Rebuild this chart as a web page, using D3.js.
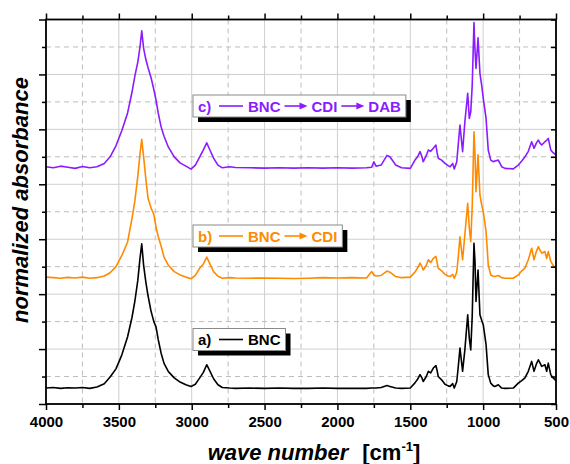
<!DOCTYPE html>
<html>
<head>
<meta charset="utf-8">
<script src="https://cdn.jsdelivr.net/npm/d3@7"></script>
<style>
  body { margin: 0; background: #fff; }
  svg { display: block; font-family: "Liberation Sans", Arial, sans-serif; }
</style>
</head>
<body>
<div id="root"></div>
<script>
// wave numbers (cm-1) shared by the three spectra
const waveNumbers = [
  4000, 3950, 3900, 3850, 3800, 3750, 3700, 3650, 3600, 3560,
  3520, 3480, 3440, 3410, 3390, 3370, 3355, 3343, 3330, 3315,
  3300, 3280, 3260, 3245, 3230, 3210, 3190, 3160, 3120, 3080,
  3040, 3005, 2975, 2945, 2920, 2897, 2875, 2850, 2820, 2790,
  2740, 2700, 2600, 2500, 2400, 2300, 2200, 2100, 2000, 1900,
  1800, 1765, 1750, 1735, 1700, 1660, 1640, 1600, 1560, 1500,
  1468, 1450, 1433, 1420, 1411, 1390, 1376, 1360, 1342, 1324,
  1316, 1308, 1285, 1262, 1240, 1227, 1209, 1198, 1181, 1170,
  1159, 1141, 1125, 1106, 1095, 1085, 1075, 1063, 1056, 1049,
  1035, 1022, 1010, 999, 980, 965, 948, 930, 919, 896,
  873, 850, 793, 759, 735, 713, 690, 667, 651, 635,
  621, 610, 598, 576, 564, 553, 536, 520, 500
];

// a) BNC
const bnc = [
  0.58, 0.60, 0.57, 0.59, 0.58, 0.60, 0.57, 0.62, 0.74, 0.98,
  1.28, 1.78, 2.45, 3.15, 3.75, 4.50, 5.30, 5.83, 5.05, 4.45,
  3.95, 3.40, 3.00, 2.81, 2.35, 1.85, 1.48, 1.18, 0.95, 0.80,
  0.70, 0.64, 0.72, 0.95, 1.15, 1.43, 1.20, 0.92, 0.70, 0.60,
  0.58, 0.57, 0.58, 0.57, 0.58, 0.57, 0.57, 0.58, 0.57, 0.57,
  0.57, 0.58, 0.58, 0.58, 0.60, 0.67, 0.64, 0.58, 0.57, 0.58,
  0.77, 0.90, 1.07, 0.95, 0.82, 1.00, 1.19, 1.13, 1.31, 1.40,
  1.22, 1.00, 0.88, 0.72, 0.66, 0.64, 0.74, 0.58, 0.82, 1.40,
  2.04, 1.19, 2.00, 3.25, 2.40, 1.97, 3.20, 5.85, 5.20, 3.73,
  4.88, 3.25, 3.05, 2.88, 2.16, 1.07, 0.76, 0.66, 0.64, 0.70,
  0.58, 0.57, 0.58, 0.76, 0.85, 0.95, 1.19, 1.55, 1.19, 1.45,
  1.61, 1.50, 1.37, 1.43, 1.19, 1.49, 1.07, 0.95, 0.85
];

// b) BNC -> CDI
const bncCdi = [
  4.62, 4.60, 4.58, 4.61, 4.59, 4.62, 4.58, 4.60, 4.66, 4.78,
  5.00, 5.40, 5.90, 6.75, 7.40, 8.30, 9.10, 9.64, 9.00, 8.20,
  7.50, 7.15, 6.90, 6.45, 6.10, 5.75, 5.35, 5.05, 4.82, 4.70,
  4.62, 4.56, 4.68, 4.95, 5.10, 5.35, 5.10, 4.82, 4.65, 4.58,
  4.60, 4.59, 4.58, 4.59, 4.58, 4.57, 4.58, 4.60, 4.59, 4.60,
  4.59, 4.82, 4.70, 4.66, 4.68, 4.84, 4.80, 4.64, 4.60, 4.62,
  4.80, 4.95, 5.13, 5.00, 4.88, 5.05, 5.25, 5.15, 5.30, 5.37,
  5.15, 4.95, 4.85, 4.72, 4.66, 4.64, 4.72, 4.58, 4.80, 5.40,
  6.09, 5.25, 6.20, 7.31, 6.40, 5.91, 7.20, 9.91, 9.10, 7.73,
  9.07, 7.61, 7.25, 7.00, 6.28, 5.07, 4.70, 4.65, 4.64, 4.68,
  4.60, 4.58, 4.58, 4.70, 4.85, 4.95, 5.25, 5.67, 5.25, 5.55,
  5.73, 5.60, 5.49, 5.55, 5.30, 5.55, 5.19, 5.05, 4.95
];

// c) BNC -> CDI -> DAB
const bncCdiDab = [
  8.64, 8.60, 8.66, 8.62, 8.58, 8.65, 8.60, 8.64, 8.76, 9.00,
  9.40, 9.95, 10.60, 11.35, 11.95, 12.45, 13.00, 13.59, 12.95, 12.55,
  12.25, 11.90, 11.45, 11.07, 10.60, 10.09, 9.75, 9.35, 9.00, 8.78,
  8.66, 8.55, 8.70, 9.00, 9.25, 9.51, 9.25, 8.95, 8.70, 8.60,
  8.64, 8.61, 8.60, 8.59, 8.60, 8.59, 8.60, 8.59, 8.60, 8.59,
  8.60, 8.62, 8.82, 8.66, 8.70, 9.05, 9.00, 8.70, 8.60, 8.58,
  8.88, 9.00, 9.19, 9.00, 8.82, 9.05, 9.25, 9.20, 9.31, 9.43,
  9.15, 8.95, 8.88, 8.76, 8.68, 8.64, 8.76, 8.56, 8.82, 9.50,
  10.16, 9.19, 10.30, 11.31, 10.40, 10.64, 11.60, 13.89, 12.90, 12.22,
  13.33, 12.04, 11.60, 11.13, 10.40, 9.25, 8.88, 8.82, 8.85, 8.88,
  8.64, 8.58, 8.56, 8.70, 8.85, 9.00, 9.20, 9.55, 9.31, 9.50,
  9.61, 9.50, 9.43, 9.55, 9.60, 9.67, 9.25, 9.15, 9.07
];

const seriesLabels = ["a)", "b)", "c)"];
const seriesChains = [["BNC"], ["BNC", "CDI"], ["BNC", "CDI", "DAB"]];
const seriesValues = [bnc, bncCdi, bncCdiDab];
const seriesColors = ["#000000", "#ff8a00", "#8a1cff"];

const xMajorTicks = [4000, 3500, 3000, 2500, 2000, 1500, 1000, 500];
const xMinorTicks = [3750, 3250, 2750, 2250, 1750, 1250, 750];
const yMajorTicks = [0, 2, 4, 6, 8, 10, 12, 14];
const yMinorTicks = [1, 3, 5, 7, 9, 11, 13];

const W = 570, H = 464;
const margin = { top: 19.5, right: 14, bottom: 60, left: 46 };
const width = W - margin.left - margin.right;
const height = H - margin.top - margin.bottom;

const svg = d3.select("#root").append("svg")
  .attr("width", W)
  .attr("height", H);

const x = d3.scaleLinear().domain([4000, 500]).range([0, width]);
const y = d3.scaleLinear().domain([0, 14]).range([height, 0]);

const g = svg.append("g")
  .attr("transform", "translate(" + margin.left + "," + margin.top + ")");

// grid: solid at major ticks, dashed at minor ones
const grid = g.append("g").attr("class", "grid");
grid.selectAll(".vmaj").data(xMajorTicks).enter().append("line")
  .attr("x1", d => x(d)).attr("x2", d => x(d))
  .attr("y1", 0).attr("y2", height)
  .attr("stroke", "#cfcfcf").attr("stroke-width", 1);
grid.selectAll(".vmin").data(xMinorTicks).enter().append("line")
  .attr("x1", d => x(d)).attr("x2", d => x(d))
  .attr("y1", 0).attr("y2", height)
  .attr("stroke", "#bdbdbd").attr("stroke-width", 1)
  .attr("stroke-dasharray", "5,4");
grid.selectAll(".hmaj").data(yMajorTicks).enter().append("line")
  .attr("x1", 0).attr("x2", width)
  .attr("y1", d => y(d)).attr("y2", d => y(d))
  .attr("stroke", "#cfcfcf").attr("stroke-width", 1);
grid.selectAll(".hmin").data(yMinorTicks).enter().append("line")
  .attr("x1", 0).attr("x2", width)
  .attr("y1", d => y(d)).attr("y2", d => y(d))
  .attr("stroke", "#bdbdbd").attr("stroke-width", 1)
  .attr("stroke-dasharray", "5,4");

// spectra
const drawLine = d3.line()
  .x(d => x(d[0]))
  .y(d => y(d[1]));

seriesValues.forEach((vals, i) => {
  const pts = waveNumbers.map((w, j) => [w, vals[j]]);
  g.append("path")
    .datum(pts)
    .attr("d", drawLine)
    .attr("fill", "none")
    .attr("stroke", seriesColors[i])
    .attr("stroke-width", 1.6)
    .attr("stroke-linejoin", "round");
});

// axes
const styleAxis = (sel) => {
  sel.select(".domain").remove();
  sel.selectAll(".tick line").attr("stroke", "#000").attr("stroke-width", 1.5);
};

g.append("g")
  .attr("transform", "translate(0," + height + ")")
  .call(d3.axisBottom(x).tickValues(xMajorTicks).tickSize(6).tickPadding(6).tickFormat(d3.format("d")))
  .call(styleAxis)
  .call(s => s.selectAll("text")
    .attr("fill", "#000")
    .style("font-size", "15px")
    .style("font-weight", "bold")
    .style("font-family", "'Liberation Sans', Arial, sans-serif"));
g.append("g")
  .attr("transform", "translate(0," + height + ")")
  .call(d3.axisBottom(x).tickValues(xMinorTicks).tickSize(4).tickFormat(""))
  .call(styleAxis);

g.append("g")
  .call(d3.axisTop(x).tickValues(xMajorTicks).tickSize(6).tickFormat(""))
  .call(styleAxis);
g.append("g")
  .call(d3.axisTop(x).tickValues(xMinorTicks).tickSize(4).tickFormat(""))
  .call(styleAxis);

g.append("g")
  .call(d3.axisLeft(y).tickValues(yMajorTicks).tickSize(7).tickFormat(""))
  .call(styleAxis);
g.append("g")
  .call(d3.axisLeft(y).tickValues(yMinorTicks).tickSize(4).tickFormat(""))
  .call(styleAxis);

g.append("g")
  .attr("transform", "translate(" + width + ",0)")
  .call(d3.axisRight(y).tickValues(yMajorTicks.concat(yMinorTicks)).tickSize(-5).tickFormat(""))
  .call(styleAxis);

// frame
g.append("rect")
  .attr("x", 0).attr("y", 0)
  .attr("width", width).attr("height", height)
  .attr("fill", "none")
  .attr("stroke", "#000")
  .attr("stroke-width", 1.8);

// legends, one box per spectrum
const legendTop = [328.5, 225, 95];
const legendLeft = 193;

seriesLabels.forEach((lab, i) => {
  const color = seriesColors[i];
  const top = legendTop[i];
  const base = top + 16.5;
  const mid = top + 11;
  const lg = svg.append("g");
  const box = lg.append("rect");
  const shadow = lg.insert("rect", "rect");
  const txt = (s, tx) => lg.append("text")
    .attr("x", tx).attr("y", base)
    .attr("fill", color)
    .style("font-size", "15px")
    .style("font-weight", "bold")
    .text(s);

  txt(lab, legendLeft + 5);
  lg.append("line")
    .attr("x1", legendLeft + 26).attr("x2", legendLeft + 50)
    .attr("y1", mid).attr("y2", mid)
    .attr("stroke", color).attr("stroke-width", 1.6);

  let cur = legendLeft + 55;
  seriesChains[i].forEach((name, k) => {
    if (k > 0) {
      const a0 = cur + 4, a1 = cur + 27;
      lg.append("line")
        .attr("x1", a0).attr("x2", a1 - 6)
        .attr("y1", mid).attr("y2", mid)
        .attr("stroke", color).attr("stroke-width", 1.6);
      lg.append("path")
        .attr("d", "M" + (a1 - 8) + "," + (mid - 3.5) + "L" + a1 + "," + mid + "L" + (a1 - 8) + "," + (mid + 3.5) + "Z")
        .attr("fill", color);
      cur = cur + 31;
    }
    const t = txt(name, cur);
    cur = cur + t.node().getComputedTextLength();
  });

  const bw = cur + 5 - legendLeft;
  box.attr("x", legendLeft).attr("y", top)
    .attr("width", bw).attr("height", 22)
    .attr("fill", "#fff")
    .attr("stroke", "#8a8a8a").attr("stroke-width", 1);
  shadow.attr("x", legendLeft + 5).attr("y", top + 5)
    .attr("width", bw).attr("height", 22)
    .attr("fill", "#000");
});

// axis titles
svg.append("text")
  .attr("transform", "translate(28," + 200 + ") rotate(-90)")
  .attr("text-anchor", "middle")
  .style("font-size", "22px")
  .style("font-weight", "bold")
  .style("font-style", "italic")
  .text("normalized absorbance");

const xt = svg.append("text")
  .attr("x", 314).attr("y", 460)
  .attr("text-anchor", "middle")
  .style("font-size", "22px")
  .style("font-weight", "bold");
xt.append("tspan").style("font-style", "italic").text("wave number");
xt.append("tspan").attr("dx", 14).text("[cm");
xt.append("tspan").attr("dy", -9).style("font-size", "13px").text("-1");
xt.append("tspan").attr("dy", 9).text("]");
</script>
</body>
</html>
